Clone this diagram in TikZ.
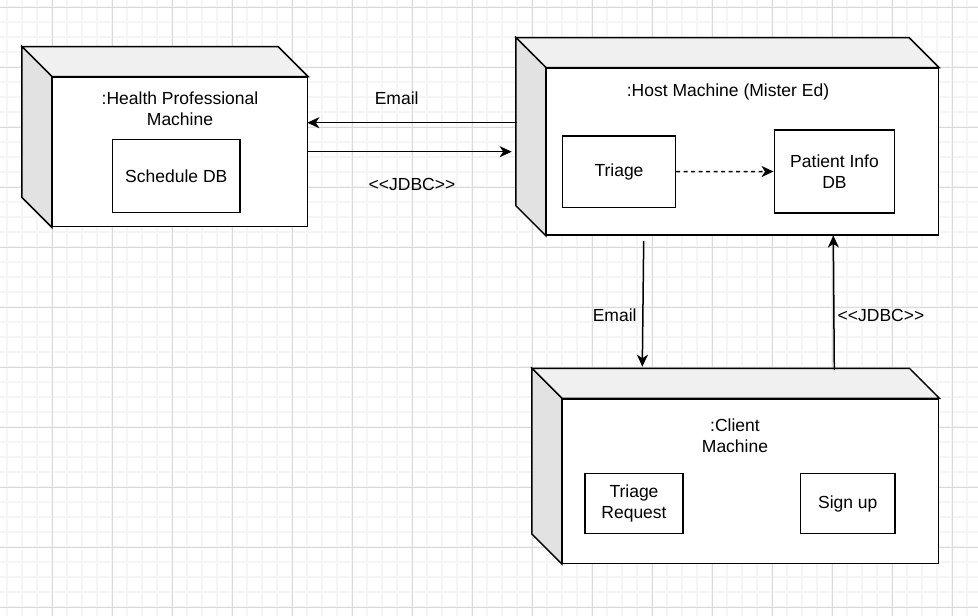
\documentclass[tikz,border=0pt]{standalone}
\usepackage{fontspec}
\newfontfamily\diagfont{Liberation Sans}
\usetikzlibrary{arrows.meta}
\definecolor{gridminor}{RGB}{245,245,245}
\definecolor{gridmajor}{RGB}{218,218,218}
\definecolor{topface}{RGB}{240,240,240}
\definecolor{sideface}{RGB}{226,226,226}
\begin{document}
\begin{tikzpicture}[x=1pt,y=-1pt,
  every node/.style={font=\diagfont\fontsize{17.5}{21}\selectfont, text=black},
  front/.style={draw, line width=1.5pt, fill=white, inner sep=0pt},
  side/.style={draw, line width=1.5pt, fill=sideface, line join=miter},
  top/.style={draw, line width=1.5pt, fill=topface, line join=miter},
  part/.style={draw, line width=1.5pt, fill=white, inner sep=0pt, align=center},
  title/.style={align=center, inner sep=0pt},
  lbl/.style={inner sep=0pt},
  arr/.style={line width=1.5pt, -{Stealth[length=12pt,width=11pt,inset=3.5pt]}},
  dep/.style={arr, dash pattern=on 4pt off 3.5pt}]

% canvas and grid
\useasboundingbox (0,0) rectangle (978,616);
\fill[white] (0,0) rectangle (978,616);
\foreach \g in {7,22,...,977} {
  \draw[gridminor, line width=1.6pt] (\g,0) -- (\g,616);
}
\foreach \g in {7,22,...,616} {
  \draw[gridminor, line width=1.6pt] (0,\g) -- (978,\g);
}
\foreach \g in {-8,52,...,977} {
  \draw[gridmajor, line width=1pt] (\g,0) -- (\g,616);
}
\foreach \g in {7,67,...,616} {
  \draw[gridmajor, line width=1pt] (0,\g) -- (978,\g);
}

% Health Professional Machine
\node[front, minimum width=254.6pt, minimum height=149.4pt] (hp) at (180,152) {};
\draw[top] (hp.north west) -- ++(-30,-30) -- ([shift={(-30,-30)}]hp.north east) -- (hp.north east) -- cycle;
\draw[side] (hp.north west) -- ++(-30,-30) -- ([shift={(-30,-30)}]hp.south west) -- (hp.south west) -- cycle;
\node[title] (hpTitle) at (180,108.8) {:Health Professional\\Machine};
\node[part, minimum width=127.3pt, minimum height=73.4pt] (sched) at (176.3,176) {Schedule DB};

% Host Machine
\node[front, minimum width=391.6pt, minimum height=166.7pt] (host) at (742.5,151.7) {};
\draw[top] (host.north west) -- ++(-30,-30) -- ([shift={(-30,-30)}]host.north east) -- (host.north east) -- cycle;
\draw[side] (host.north west) -- ++(-30,-30) -- ([shift={(-30,-30)}]host.south west) -- (host.south west) -- cycle;
\node[title] (hostTitle) at (728,92.3) {:Host Machine (Mister Ed)};
\node[part, minimum width=112.6pt, minimum height=71.3pt] (triage) at (619,171.7) {Triage};
\node[part, minimum width=120.4pt, minimum height=83pt] (patient) at (834.5,171.5) {Patient Info\\DB};

% Client Machine
\node[front, minimum width=376pt, minimum height=164.3pt] (client) at (750.7,481.2) {};
\draw[top] (client.north west) -- ++(-30,-30) -- ([shift={(-30,-30)}]client.north east) -- (client.north east) -- cycle;
\draw[side] (client.north west) -- ++(-30,-30) -- ([shift={(-30,-30)}]client.south west) -- (client.south west) -- cycle;
\node[title] (clientTitle) at (735,435.3) {:Client\\Machine};
\node[part, minimum width=98pt, minimum height=60pt] (treq) at (634,503.7) {Triage\\Request};
\node[part, minimum width=94.3pt, minimum height=60pt] (signup) at (847.8,503.7) {Sign up};

% connector end points on the machine outlines
\coordinate (hostMailOut) at (516.7,122.7);
\coordinate (hpMailIn) at (307.3,122.7);
\coordinate (hpJdbcOut) at (307.3,151.7);
\coordinate (hostJdbcIn) at (511.7,151.7);
\coordinate (hostMailDown) at (643.7,241);
\coordinate (clientMailIn) at (642.3,366.7);
\coordinate (clientJdbcOut) at (834.3,370);
\coordinate (hostJdbcUp) at (833.3,235.5);

% connectors
\draw[arr] (hostMailOut) -- (hpMailIn);
\draw[arr] (hpJdbcOut) -- (hostJdbcIn);
\draw[dep] (triage.east) -- (patient.west);
\draw[arr] (hostMailDown) -- (clientMailIn);
\draw[arr] (clientJdbcOut) -- (hostJdbcUp);

% connector labels
\node[lbl] (lblMail1) at (396.7,98.3) {Email};
\node[lbl] (lblJdbc1) at (412,184.3) {<<JDBC>>};
\node[lbl] (lblMail2) at (614.7,315) {Email};
\node[lbl] (lblJdbc2) at (881,315) {<<JDBC>>};
\end{tikzpicture}
\end{document}
